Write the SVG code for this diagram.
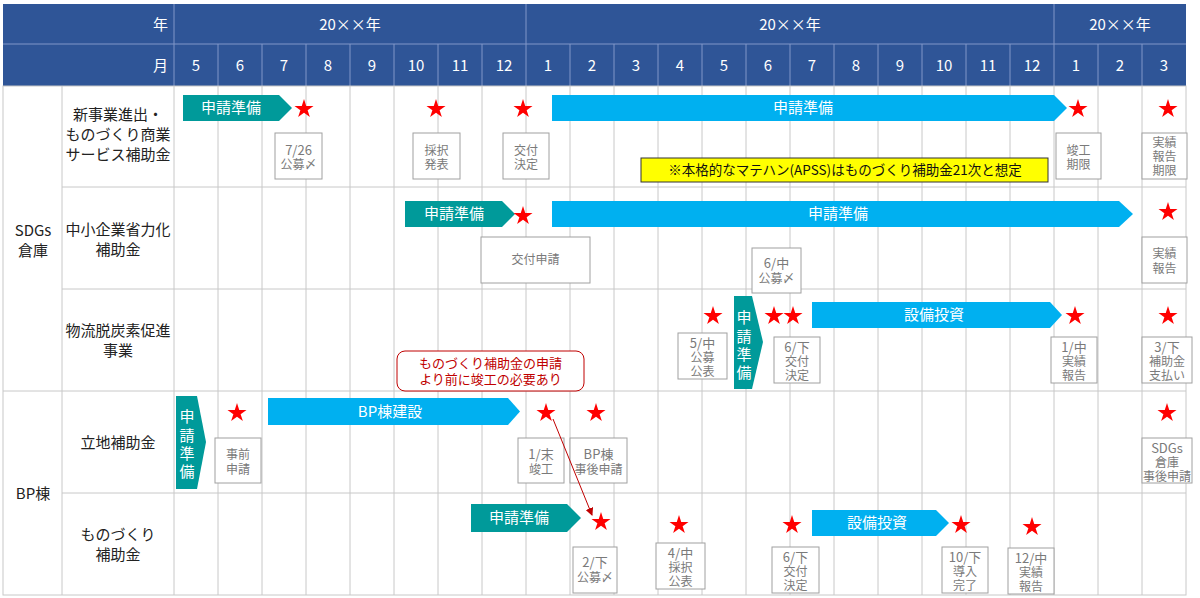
<svg xmlns="http://www.w3.org/2000/svg" width="1200" height="598" viewBox="0 0 1200 598">
<style>
text{font-family:"Noto Sans CJK JP","Noto Sans",sans-serif}
.hd{fill:#fff;font-size:15px;text-anchor:middle}
.hdr{fill:#fff;font-size:15px;text-anchor:end}
.lbl{fill:#222;font-size:15px;text-anchor:middle}
.ar{fill:#fff;font-size:15px;text-anchor:middle}
.teal{fill:#009A9A}
.blue{fill:#00B0F0}
.box{fill:#fff;stroke:#A0A0A0;stroke-width:1}
.bt{fill:#7A7A7A;font-size:12px;text-anchor:middle}
.n{font-size:13px}
.star{fill:#FF0000}
.g{stroke:#C8C8C8;stroke-width:1;fill:none}
.hl{stroke:#8197C8;stroke-width:1}
</style>
<defs>
<path id="star" d="M0,-10 L2.245,-3.09 L9.511,-3.09 L3.633,1.18 L5.878,8.09 L0,3.82 L-5.878,8.09 L-3.633,1.18 L-9.511,-3.09 L-2.245,-3.09 Z"/>
<marker id="ah" markerWidth="8" markerHeight="8" refX="7" refY="4" orient="auto" markerUnits="userSpaceOnUse"><path d="M0,0 L8,4 L0,8 Z" fill="#C00000"/></marker>
</defs>
<rect width="1200" height="598" fill="#fff"/>
<g id="header">
<rect x="3" y="4" width="1183" height="82" fill="#2F5597"/>
<line class="hl" x1="3" y1="44" x2="1186" y2="44"/>
<line class="hl" x1="174" y1="4" x2="174" y2="86"/>
<line class="hl" x1="526" y1="4" x2="526" y2="86"/>
<line class="hl" x1="1054" y1="4" x2="1054" y2="86"/>
<g class="hl">
<line x1="218" y1="44" x2="218" y2="86"/><line x1="262" y1="44" x2="262" y2="86"/><line x1="306" y1="44" x2="306" y2="86"/><line x1="350" y1="44" x2="350" y2="86"/><line x1="394" y1="44" x2="394" y2="86"/><line x1="438" y1="44" x2="438" y2="86"/><line x1="482" y1="44" x2="482" y2="86"/><line x1="570" y1="44" x2="570" y2="86"/><line x1="614" y1="44" x2="614" y2="86"/><line x1="658" y1="44" x2="658" y2="86"/><line x1="702" y1="44" x2="702" y2="86"/><line x1="746" y1="44" x2="746" y2="86"/><line x1="790" y1="44" x2="790" y2="86"/><line x1="834" y1="44" x2="834" y2="86"/><line x1="878" y1="44" x2="878" y2="86"/><line x1="922" y1="44" x2="922" y2="86"/><line x1="966" y1="44" x2="966" y2="86"/><line x1="1010" y1="44" x2="1010" y2="86"/><line x1="1098" y1="44" x2="1098" y2="86"/><line x1="1142" y1="44" x2="1142" y2="86"/>
</g>
<text class="hdr" x="168" y="30">年</text>
<text class="hdr" x="168" y="71">月</text>
<text class="hd" x="350" y="30">20××年</text>
<text class="hd" x="790" y="30">20××年</text>
<text class="hd" x="1120" y="30">20××年</text>
<text class="hd" x="196" y="71">5</text><text class="hd" x="240" y="71">6</text><text class="hd" x="284" y="71">7</text><text class="hd" x="328" y="71">8</text><text class="hd" x="372" y="71">9</text><text class="hd" x="416" y="71">10</text><text class="hd" x="460" y="71">11</text><text class="hd" x="504" y="71">12</text><text class="hd" x="548" y="71">1</text><text class="hd" x="592" y="71">2</text><text class="hd" x="636" y="71">3</text><text class="hd" x="680" y="71">4</text><text class="hd" x="724" y="71">5</text><text class="hd" x="768" y="71">6</text><text class="hd" x="812" y="71">7</text><text class="hd" x="856" y="71">8</text><text class="hd" x="900" y="71">9</text><text class="hd" x="944" y="71">10</text><text class="hd" x="988" y="71">11</text><text class="hd" x="1032" y="71">12</text><text class="hd" x="1076" y="71">1</text><text class="hd" x="1120" y="71">2</text><text class="hd" x="1164" y="71">3</text>
</g>
<g id="grid" class="g">
<rect x="3" y="86" width="1183" height="509"/>
<line x1="62" y1="187" x2="1186" y2="187"/>
<line x1="62" y1="289" x2="1186" y2="289"/>
<line x1="3" y1="391" x2="1186" y2="391"/>
<line x1="62" y1="493" x2="1186" y2="493"/>
<line x1="62" y1="86" x2="62" y2="595"/>
<line x1="174" y1="86" x2="174" y2="595"/><line x1="218" y1="86" x2="218" y2="595"/><line x1="262" y1="86" x2="262" y2="595"/><line x1="306" y1="86" x2="306" y2="595"/><line x1="350" y1="86" x2="350" y2="595"/><line x1="394" y1="86" x2="394" y2="595"/><line x1="438" y1="86" x2="438" y2="595"/><line x1="482" y1="86" x2="482" y2="595"/><line x1="526" y1="86" x2="526" y2="595"/><line x1="570" y1="86" x2="570" y2="595"/><line x1="614" y1="86" x2="614" y2="595"/><line x1="658" y1="86" x2="658" y2="595"/><line x1="702" y1="86" x2="702" y2="595"/><line x1="746" y1="86" x2="746" y2="595"/><line x1="790" y1="86" x2="790" y2="595"/><line x1="834" y1="86" x2="834" y2="595"/><line x1="878" y1="86" x2="878" y2="595"/><line x1="922" y1="86" x2="922" y2="595"/><line x1="966" y1="86" x2="966" y2="595"/><line x1="1010" y1="86" x2="1010" y2="595"/><line x1="1054" y1="86" x2="1054" y2="595"/><line x1="1098" y1="86" x2="1098" y2="595"/><line x1="1142" y1="86" x2="1142" y2="595"/>
</g>
<g id="labels">
<text class="lbl"><tspan x="33" y="236">SDGs</tspan><tspan x="33" y="256">倉庫</tspan></text>
<text class="lbl" x="33" y="499">BP棟</text>
<text class="lbl"><tspan x="118" y="120">新事業進出・</tspan><tspan x="118" y="140">ものづくり商業</tspan><tspan x="118" y="160">サービス補助金</tspan></text>
<text class="lbl"><tspan x="118" y="235">中小企業省力化</tspan><tspan x="118" y="255">補助金</tspan></text>
<text class="lbl"><tspan x="118" y="336">物流脱炭素促進</tspan><tspan x="118" y="356">事業</tspan></text>
<text class="lbl" x="118" y="448">立地補助金</text>
<text class="lbl"><tspan x="118" y="540">ものづくり</tspan><tspan x="118" y="560">補助金</tspan></text>
</g>
<g id="row1">
<g id="r1-prep1"><polygon class="teal" points="183,95 279,95 292,108 279,121 183,121"/><text class="ar" x="231" y="113">申請準備</text></g>
<g id="r1-prep2"><polygon class="blue" points="552,95 1054,95 1067,108 1054,121 552,121"/><text class="ar" x="803" y="113">申請準備</text></g>
<use href="#star" class="star" x="304" y="109"/>
<use href="#star" class="star" x="436" y="109"/>
<use href="#star" class="star" x="523" y="109"/>
<use href="#star" class="star" x="1078" y="109"/>
<use href="#star" class="star" x="1168" y="109"/>
<g id="r1-b1"><rect class="box" x="275" y="133" width="47" height="46"/><text class="bt"><tspan class="n" x="298.5" y="155">7/26</tspan><tspan x="298.5" y="169">公募〆</tspan></text></g>
<g id="r1-b2"><rect class="box" x="413" y="133" width="47" height="46"/><text class="bt"><tspan x="436.5" y="155">採択</tspan><tspan x="436.5" y="169">発表</tspan></text></g>
<g id="r1-b3"><rect class="box" x="503" y="133" width="46" height="46"/><text class="bt"><tspan x="526" y="155">交付</tspan><tspan x="526" y="169">決定</tspan></text></g>
<g id="r1-b4"><rect class="box" x="1056" y="133" width="45" height="46"/><text class="bt"><tspan x="1078.5" y="155">竣工</tspan><tspan x="1078.5" y="169">期限</tspan></text></g>
<g id="r1-b5"><rect class="box" x="1142" y="133" width="45" height="46"/><text class="bt"><tspan x="1164.5" y="147">実績</tspan><tspan x="1164.5" y="161">報告</tspan><tspan x="1164.5" y="175">期限</tspan></text></g>
<g id="r1-note"><rect x="641" y="158" width="407" height="24" fill="#FFFF00" stroke="#333" stroke-width="1"/><text x="845" y="175" style="font-size:13.5px;fill:#111;text-anchor:middle">※本格的なマテハン(APSS)はものづくり補助金21次と想定</text></g>
</g>
<g id="row2">
<g id="r2-prep1"><polygon class="teal" points="405,201 502,201 515,214 502,227 405,227"/><text class="ar" x="454" y="219">申請準備</text></g>
<g id="r2-prep2"><polygon class="blue" points="552,201 1119,201 1133,214 1119,227 552,227"/><text class="ar" x="838" y="219">申請準備</text></g>
<use href="#star" class="star" x="523" y="216"/>
<use href="#star" class="star" x="1168" y="212"/>
<g id="r2-b1"><rect class="box" x="481" y="237" width="109" height="46"/><text class="bt" x="535.5" y="264">交付申請</text></g>
<g id="r2-b2"><rect class="box" x="752" y="248" width="49" height="45"/><text class="bt"><tspan class="n" x="776.5" y="268">6/中</tspan><tspan x="776.5" y="283">公募〆</tspan></text></g>
<g id="r2-b3"><rect class="box" x="1142" y="237" width="45" height="46"/><text class="bt"><tspan x="1164.5" y="258">実績</tspan><tspan x="1164.5" y="273">報告</tspan></text></g>
</g>
<g id="row3">
<g id="r3-prep"><polygon class="teal" points="734,296 752,296 763,342 752,389 734,389"/><text class="ar"><tspan x="744" y="323">申</tspan><tspan x="744" y="342">請</tspan><tspan x="744" y="360">準</tspan><tspan x="744" y="378">備</tspan></text></g>
<g id="r3-inv"><polygon class="blue" points="812,302 1050,302 1062,315 1050,328 812,328"/><text class="ar" x="934" y="320">設備投資</text></g>
<use href="#star" class="star" x="713" y="316"/>
<use href="#star" class="star" x="774" y="316"/>
<use href="#star" class="star" x="793" y="316"/>
<use href="#star" class="star" x="1075" y="316"/>
<use href="#star" class="star" x="1168" y="316"/>
<g id="r3-b1"><rect class="box" x="678" y="333" width="49" height="46"/><text class="bt"><tspan class="n" x="702.5" y="348">5/中</tspan><tspan x="702.5" y="362">公募</tspan><tspan x="702.5" y="376">公表</tspan></text></g>
<g id="r3-b2"><rect class="box" x="774" y="337" width="46" height="46"/><text class="bt"><tspan class="n" x="797" y="352">6/下</tspan><tspan x="797" y="366">交付</tspan><tspan x="797" y="380">決定</tspan></text></g>
<g id="r3-b3"><rect class="box" x="1051" y="337" width="46" height="46"/><text class="bt"><tspan class="n" x="1074" y="352">1/中</tspan><tspan x="1074" y="366">実績</tspan><tspan x="1074" y="380">報告</tspan></text></g>
<g id="r3-b4"><rect class="box" x="1142" y="337" width="50" height="46"/><text class="bt"><tspan class="n" x="1167" y="352">3/下</tspan><tspan x="1167" y="366">補助金</tspan><tspan x="1167" y="380">支払い</tspan></text></g>
<g id="callout"><rect x="397" y="351" width="187" height="40" rx="8" fill="#fff" stroke="#C00000" stroke-width="1"/><text style="font-size:13px;fill:#C00000;text-anchor:middle"><tspan x="490.5" y="368">ものづくり補助金の申請</tspan><tspan x="490.5" y="384">より前に竣工の必要あり</tspan></text></g>
</g>
<g id="row4">
<g id="r4-prep"><polygon class="teal" points="176,396 197,396 206,442 197,489 176,489"/><text class="ar"><tspan x="187" y="422">申</tspan><tspan x="187" y="441">請</tspan><tspan x="187" y="459">準</tspan><tspan x="187" y="477">備</tspan></text></g>
<g id="r4-build"><polygon class="blue" points="268,398 508,398 520,411.5 508,425 268,425"/><text class="ar" x="390" y="417">BP棟建設</text></g>
<use href="#star" class="star" x="237" y="413"/>
<use href="#star" class="star" x="546" y="413"/>
<use href="#star" class="star" x="596" y="413"/>
<use href="#star" class="star" x="1167" y="413"/>
<g id="r4-b1"><rect class="box" x="215" y="438" width="46" height="45"/><text class="bt"><tspan x="238" y="459">事前</tspan><tspan x="238" y="474">申請</tspan></text></g>
<g id="r4-b2"><rect class="box" x="518" y="438" width="46" height="45"/><text class="bt"><tspan class="n" x="541" y="459">1/末</tspan><tspan x="541" y="474">竣工</tspan></text></g>
<g id="r4-b3"><rect class="box" x="570" y="438" width="57" height="45"/><text class="bt"><tspan class="n" x="598.5" y="459">BP棟</tspan><tspan x="598.5" y="474">事後申請</tspan></text></g>
<g id="r4-b4"><rect class="box" x="1142" y="438" width="50" height="45"/><text class="bt"><tspan class="n" x="1167" y="453">SDGs</tspan><tspan x="1167" y="467">倉庫</tspan><tspan x="1167" y="481">事後申請</tspan></text></g>
</g>
<g id="row5">
<g id="r5-prep"><polygon class="teal" points="471,504 567,504 581,518 567,532 471,532"/><text class="ar" x="519" y="523">申請準備</text></g>
<g id="r5-inv"><polygon class="blue" points="812,510 936,510 949,523 936,536 812,536"/><text class="ar" x="877" y="528">設備投資</text></g>
<use href="#star" class="star" x="601" y="522"/>
<use href="#star" class="star" x="679" y="525"/>
<use href="#star" class="star" x="792" y="525"/>
<use href="#star" class="star" x="961" y="525"/>
<use href="#star" class="star" x="1032" y="527"/>
<g id="r5-b1"><rect class="box" x="573" y="547" width="44" height="46"/><text class="bt"><tspan class="n" x="595" y="567">2/下</tspan><tspan x="595" y="582">公募〆</tspan></text></g>
<g id="r5-b2"><rect class="box" x="656" y="543" width="49" height="46"/><text class="bt"><tspan class="n" x="680.5" y="558">4/中</tspan><tspan x="680.5" y="572">採択</tspan><tspan x="680.5" y="586">公表</tspan></text></g>
<g id="r5-b3"><rect class="box" x="772" y="547" width="47" height="46"/><text class="bt"><tspan class="n" x="795.5" y="562">6/下</tspan><tspan x="795.5" y="576">交付</tspan><tspan x="795.5" y="590">決定</tspan></text></g>
<g id="r5-b4"><rect class="box" x="942" y="547" width="46" height="46"/><text class="bt"><tspan class="n" x="965" y="562">10/下</tspan><tspan x="965" y="576">導入</tspan><tspan x="965" y="590">完了</tspan></text></g>
<g id="r5-b5"><rect class="box" x="1008" y="548" width="46" height="46"/><text class="bt"><tspan class="n" x="1031" y="563">12/中</tspan><tspan x="1031" y="577">実績</tspan><tspan x="1031" y="591">報告</tspan></text></g>
</g>
<g id="connectors">
<line x1="553" y1="419" x2="592" y2="515" stroke="#C00000" stroke-width="1" marker-end="url(#ah)"/>
</g>
</svg>
